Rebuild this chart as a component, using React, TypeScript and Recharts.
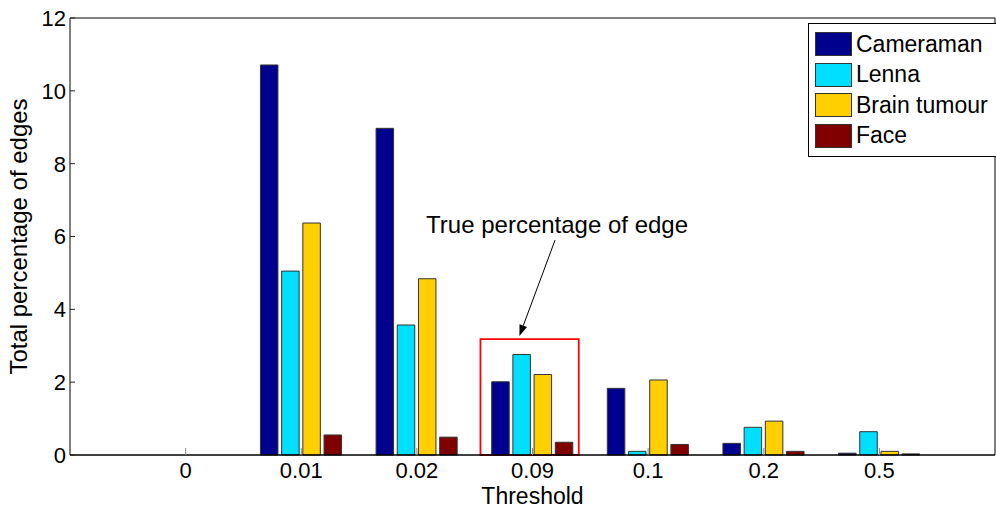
import React from 'react';
import {
  BarChart,
  Bar,
  XAxis,
  YAxis,
  Legend,
  ReferenceArea,
  ReferenceLine
} from 'recharts';

const thresholds = ['0', '0.01', '0.02', '0.09', '0.1', '0.2', '0.5'];
const cameraman = [0, 10.71, 8.97, 2.01, 1.83, 0.32, 0.05];
const lenna = [0, 5.05, 3.57, 2.76, 0.1, 0.76, 0.64];
const brainTumour = [0, 6.37, 4.84, 2.21, 2.06, 0.93, 0.1];
const face = [0, 0.55, 0.49, 0.35, 0.29, 0.1, 0.03];
const yTicks = [0, 2, 4, 6, 8, 10, 12];

const series = [
  { key: 'cameraman', name: 'Cameraman', color: '#00008f' },
  { key: 'lenna', name: 'Lenna', color: '#00dfff' },
  { key: 'brain', name: 'Brain tumour', color: '#ffcf00' },
  { key: 'face', name: 'Face', color: '#800000' }
];

// bars sit at 1..7 on a 0..8 axis, like matlab's default xlim
const data = thresholds.map((t, i) => ({
  pos: i + 1,
  label: t,
  cameraman: cameraman[i],
  lenna: lenna[i],
  brain: brainTumour[i],
  face: face[i]
}));
const xTicks = data.map(d => d.pos);

const FONT = '"Liberation Sans", Arial, Helvetica, sans-serif';

const LeftTick = ({ x, y, payload }: any) => (
  <g>
    <line x1={x + 4} x2={x + 9} y1={y} y2={y} stroke="#222" strokeWidth={1} />
    <text x={x} y={y} dy="0.36em" textAnchor="end" fontSize={22} fontFamily={FONT} fill="#000">
      {payload.value}
    </text>
  </g>
);

const BottomTick = ({ x, y, payload }: any) => (
  <g>
    <line x1={x} x2={x} y1={y - 7} y2={y - 14} stroke="#888" strokeWidth={1} />
    <text x={x} y={y} dy="0.72em" textAnchor="middle" fontSize={22} fontFamily={FONT} fill="#000">
      {thresholds[payload.value - 1]}
    </text>
  </g>
);

const ArrowShape = (props: any) => {
  const { x1, y1, x2, y2 } = props;
  const ang = Math.atan2(y2 - y1, x2 - x1);
  const len = 11;
  const hw = 4;
  const bx = x2 - len * Math.cos(ang);
  const by = y2 - len * Math.sin(ang);
  const px = -Math.sin(ang) * hw;
  const py = Math.cos(ang) * hw;
  return (
    <g>
      <line x1={x1} y1={y1} x2={bx} y2={by} stroke="#000" strokeWidth={1} />
      <polygon points={`${x2},${y2} ${bx + px},${by + py} ${bx - px},${by - py}`} fill="#000" />
      <text x={x1 + 2} y={y1 - 7} textAnchor="middle" fontSize={24} fontFamily={FONT} fill="#000">
        True percentage of edge
      </text>
    </g>
  );
};

const LegendBox = () => (
  <div
    style={{
      border: '1.5px solid #000',
      background: '#fff',
      padding: '5px 0 5px 6px',
      fontFamily: FONT,
      fontSize: 23,
      boxSizing: 'border-box',
      width: 190
    }}
  >
    {series.map(s => (
      <div key={s.key} style={{ display: 'flex', alignItems: 'center', height: 30.5 }}>
        <span
          style={{
            display: 'inline-block',
            width: 35,
            height: 22,
            background: s.color,
            border: '1px solid #333',
            marginRight: 4
          }}
        />
        <span style={{ color: '#000', whiteSpace: 'nowrap' }}>{s.name}</span>
      </div>
    ))}
  </div>
);

export default function App() {
  return (
    <div style={{ position: 'absolute', left: 0, top: 0, background: '#fff' }}>
      <BarChart
        width={996}
        height={509}
        data={data}
        margin={{ top: 18, right: 1, bottom: 0, left: 0 }}
        barSize={17.5}
        barGap={3.7}
      >
        <XAxis
          dataKey="pos"
          type="number"
          domain={[0, 8]}
          ticks={xTicks}
          interval={0}
          height={54}
          tickSize={0}
          tickMargin={7}
          tickLine={false}
          tick={<BottomTick />}
          axisLine={{ stroke: '#000', strokeWidth: 1.5 }}
          label={{
            value: 'Threshold',
            position: 'insideBottom',
            offset: 5,
            fontSize: 23,
            fontFamily: FONT,
            fill: '#000'
          }}
        />
        <XAxis
          xAxisId="top"
          dataKey="pos"
          type="number"
          orientation="top"
          mirror
          domain={[0, 8]}
          ticks={xTicks}
          tick={false}
          tickSize={6}
          tickLine={{ stroke: '#888' }}
          axisLine={{ stroke: '#000', strokeWidth: 1 }}
        />
        <YAxis
          domain={[0, 12]}
          ticks={yTicks}
          width={70}
          tickSize={0}
          tickMargin={4}
          tickLine={false}
          tick={<LeftTick />}
          axisLine={{ stroke: '#000', strokeWidth: 1 }}
          label={{
            value: 'Total percentage of edges',
            angle: -90,
            position: 'insideLeft',
            offset: 18,
            textAnchor: 'middle',
            fontSize: 24,
            fontFamily: FONT,
            fill: '#000'
          }}
        />
        <YAxis
          yAxisId="right"
          orientation="right"
          mirror
          domain={[0, 12]}
          ticks={yTicks}
          tick={false}
          tickSize={5}
          tickLine={{ stroke: '#222' }}
          axisLine={{ stroke: '#000', strokeWidth: 1 }}
        />
        <Legend
          layout="vertical"
          align="center"
          verticalAlign="middle"
          wrapperStyle={{ left: 808, top: 23, width: 190, height: 127 }}
          content={() => <LegendBox />}
        />
        {series.map(s => (
          <Bar
            key={s.key}
            dataKey={s.key}
            name={s.name}
            fill={s.color}
            stroke="#333"
            strokeWidth={1}
            isAnimationActive={false}
          />
        ))}
        <ReferenceArea
          x1={3.55}
          x2={4.4}
          y1={0}
          y2={3.18}
          fill="none"
          fillOpacity={0}
          stroke="#ff0000"
          strokeWidth={1.8}
          ifOverflow="visible"
        />
        <ReferenceLine
          segment={[
            { x: 4.195, y: 5.9 },
            { x: 3.887, y: 3.27 }
          ]}
          ifOverflow="visible"
          shape={(p: any) => <ArrowShape {...p} />}
        />
      </BarChart>
    </div>
  );
}
